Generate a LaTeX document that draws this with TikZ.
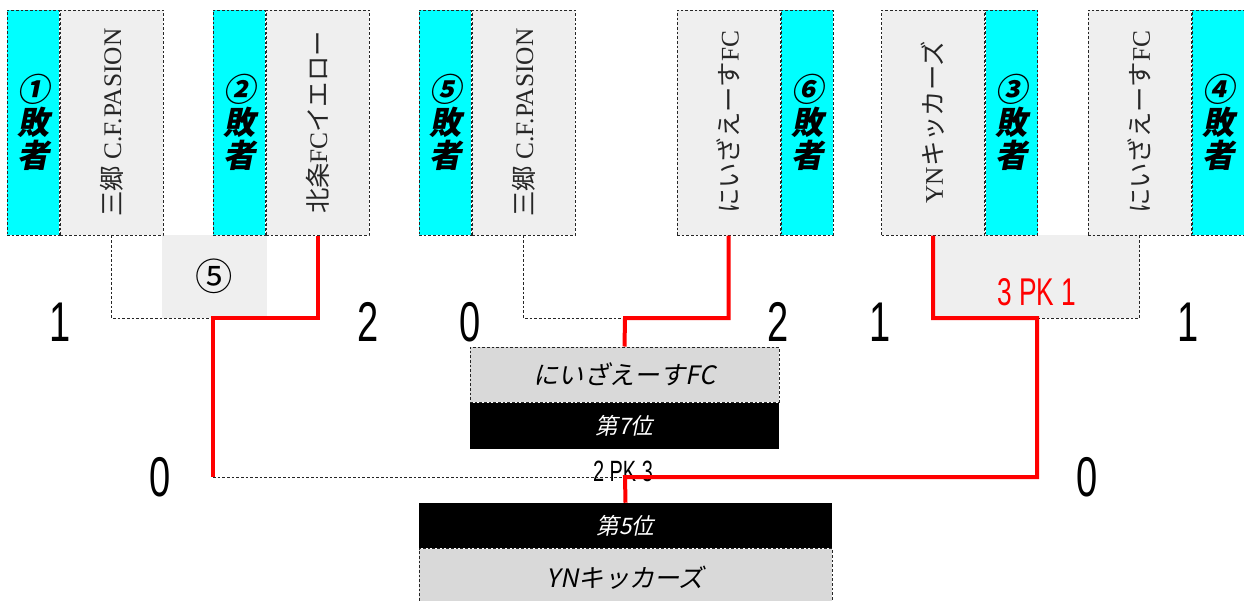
\documentclass[tikz,border=0pt]{standalone}
\usepackage{fontspec}
\setmainfont{Liberation Serif}
\newfontfamily\jp{Noto Sans CJK JP}
\newfontfamily\jpit{Noto Sans CJK JP}[FakeSlant=0.2]
\newfontfamily\scorefont{Liberation Sans}[FakeStretch=0.68]
\usetikzlibrary{positioning}
\usetikzlibrary{calc}
\tikzstyle{edge} = [draw=black!85, dash pattern=on 2pt off 1.5pt, line width=0.75pt]
\tikzstyle{line} = [draw=color4, line width=3pt]
\tikzstyle{term} = [edge]
\tikzstyle{team} = [edge, fill=color2, inner sep=0pt, minimum width=77.25pt, minimum height=168.75pt, text=black!85, font=\fontsize{19}{19}\selectfont]
\tikzstyle{loser} = [edge, fill=color1, inner sep=0pt, minimum width=39pt, minimum height=168.75pt, align=center, font=\jpit\bfseries\fontsize{24}{25}\selectfont]
\tikzstyle{score} = [inner sep=0pt, font=\scorefont\fontsize{42}{42}\selectfont]
\tikzstyle{rank} = [inner sep=0pt, fill=black, text=white, font=\jpit\fontsize{17}{17}\selectfont]
\tikzstyle{winner} = [edge, fill=color3, inner sep=0pt, font=\jpit\fontsize{19}{19}\selectfont]
\definecolor{color1}{RGB}{0, 255, 255}
\definecolor{color2}{RGB}{239, 239, 239}
\definecolor{color3}{RGB}{217, 217, 217}
\definecolor{color4}{RGB}{255, 0, 0}

\begin{document}
\begin{tikzpicture}[x=0.75pt, y=-0.75pt]

  \useasboundingbox (0,0) rectangle (1244,600);

  % ============================== Teams =======================================

  \node[fill=color2, inner sep=0pt, minimum width=78.75pt, minimum height=62.25pt,
    font=\jp\fontsize{28}{28}\selectfont] (m5) at (214.5,276.5) {⑤};
  \node[fill=color2, inner sep=0pt, minimum width=153.75pt, minimum height=62.25pt] (m34) at (1037.5,276.5) {};

  \node[team] (t1) at (111.5,122.5) {\rotatebox{90}{{\jp 三郷} C.F.PASION}};
  \node[loser, left=0pt of t1] (l1) {①\\敗\\者};
  \node[team] (t2) at (317.5,122.5) {\rotatebox{90}{{\jp 北条}FC{\jp イエロー}}};
  \node[loser, left=0pt of t2] (l2) {②\\敗\\者};
  \node[team] (t5) at (523.5,122.5) {\rotatebox{90}{{\jp 三郷} C.F.PASION}};
  \node[loser, left=0pt of t5] (l5) {⑤\\敗\\者};
  \node[team] (t6) at (728.5,122.5) {\rotatebox{90}{{\jp にいざえーす}FC}};
  \node[loser, right=0pt of t6] (l6) {⑥\\敗\\者};
  \node[team] (t3) at (933,122.5) {\rotatebox{90}{YN{\jp キッカーズ}}};
  \node[loser, right=0pt of t3] (l3) {③\\敗\\者};
  \node[team] (t4) at (1139.5,122.5) {\rotatebox{90}{{\jp にいざえーす}FC}};
  \node[loser, right=0pt of t4] (l4) {④\\敗\\者};

  % ============================== Ranks =======================================

  \node[winner, minimum width=231.75pt, minimum height=41.25pt] (r7) at (624.5,374.5) {にいざえーす\textit{FC}};
  \node[rank, minimum width=231.75pt, minimum height=34.5pt, below=0pt of r7] (b7) {第7位};
  \node[rank, minimum width=309.75pt, minimum height=33.75pt] (b5) at (625.5,525.5) {第5位};
  \node[winner, minimum width=309.75pt, minimum height=43.5pt, below=0pt of b5] (r5) {\textit{YN}キッカーズ};
  \node[inner sep=0pt, font=\scorefont\fontsize{22}{22}\selectfont] (pkf) at (623,471) {2 PK 3};

  % ============================= Connect ======================================

  \coordinate (j5) at (213,318);
  \coordinate (j6) at (625,318);
  \coordinate (j34) at (1037,318);
  \coordinate (c5) at (213,477);
  \coordinate (jf) at (625,477);

  \path[term] (t1.south) |- (j5);
  \path[term] (t5.south) |- (j6);
  \path[term] (t4.south) |- (j34);
  \path[term] (c5) -- (jf);
  \path[line] (t2.south) |- (j5) -- (c5);
  \path[line] (t6.south) |- (j6) -- (r7.north);
  \path[line] (t3.south) |- (j34) |- (jf) -- (b5.north);

  % ============================== Scores ======================================

  \node[score] (s1) at (60,322) {1};
  \node[score] (s2) at (368,322) {2};
  \node[score] (s5) at (470,322) {0};
  \node[score] (s6) at (778,322) {2};
  \node[score] (s3) at (880,322) {1};
  \node[score] (s4) at (1188,322) {1};
  \node[score] (f5) at (160,477) {0};
  \node[score] (f34) at (1087,477) {0};
  \node[inner sep=0pt, text=color4, font=\scorefont\fontsize{29}{29}\selectfont] (pk34) at (1037,292) {3 PK 1};

\end{tikzpicture}
\end{document}
